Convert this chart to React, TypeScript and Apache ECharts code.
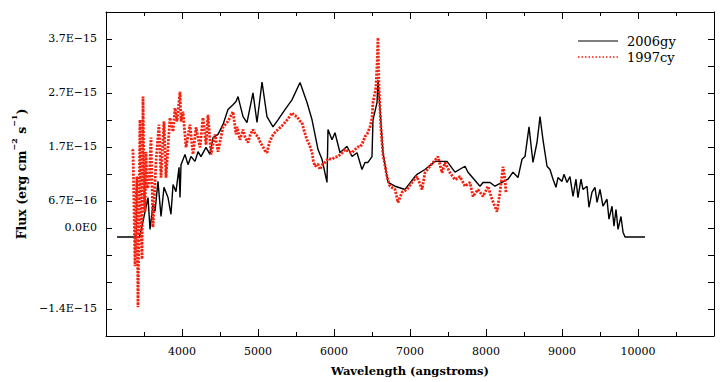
import React, { useEffect, useRef } from "react";
import * as echarts from "echarts";

// Wavelength (angstroms) and flux (units of 1e-15 erg cm^-2 s^-1)
const sn2006gyWave = [
  3145, 3355, 3421, 3440, 3474, 3553, 3579, 3618, 3645, 3684, 3724, 3763, 3816, 3855, 3882, 3921,
  3961, 3974, 3987, 4039, 4079, 4118, 4171, 4211, 4250, 4316, 4368, 4408, 4474, 4539, 4605, 4671,
  4711, 4737, 4803, 4855, 4934, 4987, 5053, 5118, 5197, 5263, 5355, 5447, 5553, 5645, 5711, 5790,
  5842, 5908, 5921, 5974, 6013, 6079, 6171, 6237, 6303, 6368, 6408, 6447, 6500, 6513, 6566, 6579,
  6645, 6711, 6803, 6934, 7066, 7092, 7197, 7329, 7487, 7592, 7724, 7763, 7921, 7961, 8053, 8118,
  8289, 8355, 8421, 8474, 8513, 8566, 8618, 8671, 8711, 8750, 8803, 8842, 8882, 8921, 8947, 9000,
  9026, 9066, 9105, 9145, 9184, 9210, 9250, 9276, 9329, 9355, 9395, 9434, 9461, 9500, 9539, 9592,
  9618, 9658, 9684, 9711, 9737, 9776, 9803, 9829, 10092,
];
const sn2006gyFlux = [
  0, 0, 0, 0, 0.2, 0.73, 0.14, 0.6, 0.48, 1.03, 0.38, 0.92, 0.73, 0.42, 0.97, 0.84,
  1.29, 0.73, 1.34, 1.53, 1.34, 1.49, 1.4, 1.58, 1.49, 1.66, 1.53, 1.84, 1.9, 2.08, 2.36, 2.45,
  2.51, 2.6, 2.23, 2.12, 2.67, 2.12, 2.87, 2.23, 2.04, 2.17, 2.36, 2.54, 2.86, 2.49, 2.17, 1.62,
  1.44, 1.01, 1.99, 1.8, 1.93, 1.56, 1.68, 1.49, 1.56, 1.25, 1.38, 1.38, 1.49, 2.17, 2.49, 2.91,
  1.56, 1.01, 0.94, 0.88, 1.12, 1.16, 1.25, 1.4, 1.4, 1.2, 1.31, 1.2, 0.94, 1.01, 1.01, 0.94,
  1.07, 1.2, 1.1, 1.44, 1.49, 2.04, 1.38, 1.75, 2.23, 1.8, 1.31, 1.25, 1.07, 0.92, 1.1, 1.03,
  1.16, 1.01, 1.12, 0.75, 1.07, 0.73, 1.07, 0.88, 0.94, 0.55, 0.83, 0.92, 0.64, 0.88, 0.57, 0.7,
  0.33, 0.57, 0.2, 0.51, 0.14, 0.38, 0.09, 0, 0,
];

const sn1997cyWave = [
  3342, 3355, 3382, 3395, 3408, 3421, 3434, 3447, 3461, 3474, 3487, 3500, 3513, 3526, 3539, 3566,
  3592, 3618, 3645, 3658, 3697, 3724, 3763, 3789, 3842, 3882, 3908, 3934, 3974, 3987, 4013, 4053,
  4105, 4145, 4184, 4237, 4276, 4316, 4342, 4382, 4434, 4474, 4539, 4605, 4671, 4711, 4724, 4763,
  4803, 4830, 4868, 4900, 4934, 4965, 5000, 5030, 5066, 5090, 5118, 5150, 5184, 5220, 5263, 5310,
  5355, 5400, 5447, 5480, 5513, 5550, 5579, 5610, 5645, 5680, 5711, 5730, 5750, 5790, 5816, 5850,
  5882, 5920, 5974, 6013, 6053, 6100, 6145, 6190, 6237, 6276, 6316, 6342, 6370, 6408, 6440, 6474,
  6500, 6513, 6553, 6570, 6579, 6592, 6618, 6645, 6697, 6737, 6803, 6842, 6895, 6961, 7026, 7092,
  7158, 7197, 7263, 7303, 7368, 7421, 7461, 7526, 7592, 7658, 7724, 7789, 7829, 7895, 7961, 8026,
  8079, 8145, 8184, 8224, 8250, 8263,
];
const sn1997cyFlux = [
  1.62, 1.6, -0.54, 0.6, 1.12, -1.3, 0.3, 2.17, 0.2, -0.41, 2.6, 1.0, 0.47, 1.58, 0.9, 0.97,
  1.84, 0.18, 1.0, 1.4, 2.08, 1.1, 2.14, 1.1, 2.21, 1.95, 2.39, 2.14, 2.69, 2.14, 2.32, 1.66,
  2.08, 1.53, 2.03, 1.66, 2.21, 1.71, 2.26, 1.53, 1.9, 1.58, 2.03, 2.14, 2.32, 1.9, 2.04, 1.8,
  1.99, 1.85, 1.75, 1.9, 1.99, 1.9, 1.86, 1.75, 1.67, 1.6, 1.56, 1.75, 1.86, 1.93, 1.99, 2.05,
  2.12, 2.2, 2.3, 2.25, 2.23, 2.15, 2.12, 1.95, 1.8, 1.7, 1.56, 1.4, 1.31, 1.35, 1.25, 1.35,
  1.38, 1.45, 1.44, 1.48, 1.49, 1.55, 1.62, 1.58, 1.56, 1.62, 1.67, 1.67, 1.72, 1.86, 1.92, 2.04,
  2.2, 2.49, 2.78, 3.3, 3.69, 2.78, 1.99, 1.52, 1.12, 0.94, 0.88, 0.64, 0.83, 0.88, 1.01, 1.12,
  0.88, 1.19, 1.31, 1.38, 1.49, 1.19, 1.38, 1.19, 1.06, 1.12, 0.94, 1.01, 0.75, 0.88, 0.75, 0.94,
  0.7, 0.47, 0.83, 1.3, 1.06, 0.83,
];

// Tick labels of the flux axis (tick value -> label)
const yTickValues = [3.667, 2.667, 1.667, 0.667, 0.167, -1.333];
const yTickLabels = ["3.7E\u221215", "2.7E\u221215", "1.7E\u221215", "6.7E\u221216", "0.0E0", "\u22121.4E\u221215"];
const xTickLabels = ["4000", "5000", "6000", "7000", "8000", "9000", "10000"];

const seriesNames = ["2006gy", "1997cy"];

const FONT = "DejaVu Serif";

export default function App() {
  const ref = useRef<HTMLDivElement>(null);
  useEffect(() => {
    if (!ref.current) return;
    const chart = echarts.init(ref.current, null, { renderer: "svg" });
    const black = sn2006gyWave.map((w, i) => [w, sn2006gyFlux[i]]);
    const red = sn1997cyWave.map((w, i) => [w, sn1997cyFlux[i]]);
    const yFmt = (v: number) => {
      for (let i = 0; i < yTickValues.length; i++) {
        if (Math.abs(v - yTickValues[i]) < 0.01) return yTickLabels[i];
      }
      return "";
    };
    const xFmt = (v: number) => {
      const s = String(Math.round(v));
      return xTickLabels.indexOf(s) >= 0 ? s : "";
    };
    const xBase = {
      type: "value",
      min: 3000,
      max: 11000,
      interval: 1000,
      axisLine: { show: true, onZero: false, lineStyle: { color: "#000", width: 1 } },
      axisTick: { show: true, inside: true, length: 7, lineStyle: { color: "#000" } },
      minorTick: { show: true, splitNumber: 2, length: 4, lineStyle: { color: "#000" } },
      splitLine: { show: false },
      minorSplitLine: { show: false },
    };
    const yBase = {
      type: "value",
      min: -11 / 6,
      max: 25 / 6,
      interval: 0.5,
      axisLine: { show: true, onZero: false, lineStyle: { color: "#000", width: 1 } },
      axisTick: { show: true, inside: true, length: 6, lineStyle: { color: "#000" } },
      splitLine: { show: false },
    };
    chart.setOption({
      animation: false,
      backgroundColor: "#fff",
      grid: { left: 106, right: 8, top: 12, bottom: 46, containLabel: false },
      xAxis: [
        {
          ...xBase,
          position: "bottom",
          axisLabel: { formatter: xFmt, fontFamily: FONT, fontSize: 11, color: "#000", margin: 10 },
          name: "Wavelength (angstroms)",
          nameLocation: "middle",
          nameGap: 29,
          nameTextStyle: { fontFamily: FONT, fontSize: 11.5, fontWeight: "bold", color: "#000" },
        },
        { ...xBase, position: "top", axisLabel: { show: false } },
      ],
      yAxis: [
        {
          ...yBase,
          position: "left",
          axisLabel: { formatter: yFmt, fontFamily: FONT, fontSize: 11, color: "#000", margin: 9 },
          name: "{a|Flux (erg cm}{s|\u22122}{a| s}{s|\u22121}{a|)}",
          nameLocation: "middle",
          nameGap: 70,
          nameRotate: 90,
          nameTextStyle: {
            fontFamily: FONT,
            fontSize: 12.5,
            fontWeight: "bold",
            color: "#000",
            rich: {
              a: { fontFamily: FONT, fontSize: 12.5, fontWeight: "bold", color: "#000", lineHeight: 18, verticalAlign: "bottom" },
              s: { fontFamily: FONT, fontSize: 8, fontWeight: "bold", color: "#000", lineHeight: 18, verticalAlign: "top" },
            },
          },
        },
        { ...yBase, position: "right", axisLabel: { show: false } },
      ],
      series: [
        {
          name: seriesNames[0],
          type: "line",
          data: black,
          showSymbol: false,
          symbol: "none",
          lineStyle: { color: "#000", width: 1.4 },
          z: 2,
        },
        {
          name: seriesNames[1],
          type: "line",
          data: red,
          showSymbol: false,
          symbol: "none",
          lineStyle: { color: "#f5200e", width: 2.8, type: [2.2, 1.3] },
          z: 3,
        },
      ],
      graphic: [
        { type: "line", shape: { x1: 578, y1: 41, x2: 618, y2: 41 }, style: { stroke: "#000", lineWidth: 1.2 } },
        { type: "line", shape: { x1: 578, y1: 57, x2: 618, y2: 57 }, style: { stroke: "#f5200e", lineWidth: 1.6, lineDash: [1.5, 2] } },
        { type: "text", x: 627, y: 41, style: { text: seriesNames[0], fontFamily: FONT, fontSize: 13, fill: "#000", verticalAlign: "middle" } },
        { type: "text", x: 627, y: 57, style: { text: seriesNames[1], fontFamily: FONT, fontSize: 13, fill: "#000", verticalAlign: "middle" } },
      ],
    });
    return () => chart.dispose();
  }, []);
  return <div ref={ref} style={{ position: "fixed", left: 0, top: 0, width: 722, height: 382 }} />;
}
